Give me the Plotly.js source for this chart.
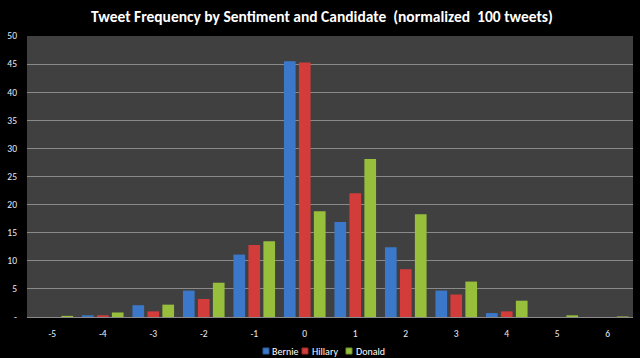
<!DOCTYPE html>
<html>
<head>
<meta charset="utf-8">
<script src="https://cdn.plot.ly/plotly-3.0.1.min.js"></script>
<style>
  html, body { margin: 0; padding: 0; background: #000; }
  #chart { width: 640px; height: 358px; }
</style>
</head>
<body>
<div id="chart"></div>
<script>
// Sentiment categories
const sentiments = ["-5", "-4", "-3", "-2", "-1", "0", "1", "2", "3", "4", "5", "6"];
// Candidates (series names)
const candidates = ["Bernie", "Hillary", "Donald"];
// Tweet frequency per 100 tweets
const bernie  = [0,   0.3, 2.1, 4.7, 11.1, 45.5, 16.9, 12.4, 4.7, 0.7, 0,   0];
const hillary = [0,   0.3, 1.0, 3.2, 12.8, 45.3, 22.0,  8.5, 4.0, 1.0, 0,   0];
const donald  = [0.2, 0.8, 2.2, 6.1, 13.5, 18.8, 28.1, 18.3, 6.3, 2.9, 0.3, 0.1];
// Y tick labels (zero shown as a dash)
const yTickVals = [0, 5, 10, 15, 20, 25, 30, 35, 40, 45, 50];
const yTickText = ["-", "5", "10", "15", "20", "25", "30", "35", "40", "45", "50"];

const FONT = "Carlito, 'Liberation Sans Narrow', 'Liberation Sans', sans-serif";
const fills = ["#3b78c9", "#d23c3a", "#97bf3c"];
const edges = ["#2a5a9a", "#9e2a28", "#6f8e2a"];
const series = [bernie, hillary, donald];

const data = candidates.map(function (name, i) {
  return {
    type: "bar",
    name: name,
    x: sentiments,
    y: series[i],
    marker: { color: fills[i], line: { width: 0 } },
    hoverinfo: "x+y+name"
  };
});

// Custom compact legend (small squares + labels), in paper coordinates
const legendSquareX = [0.3894, 0.4538, 0.5264];
const legendTextX   = [0.401, 0.467, 0.5396];
const shapes = candidates.map(function (name, i) {
  return {
    type: "rect", xref: "paper", yref: "paper",
    x0: legendSquareX[i], x1: legendSquareX[i] + 0.0099,
    y0: -0.1317, y1: -0.1103,
    fillcolor: fills[i], line: { color: edges[i], width: 1 }
  };
});
const annotations = candidates.map(function (name, i) {
  return {
    text: name, xref: "paper", yref: "paper",
    x: legendTextX[i], xanchor: "left",
    y: -0.121, yanchor: "middle",
    showarrow: false,
    font: { family: FONT, size: 10, color: "#ffffff" }
  };
});

const layout = {
  width: 640,
  height: 358,
  paper_bgcolor: "#000000",
  plot_bgcolor: "#404040",
  margin: { l: 27, r: 7, t: 36, b: 41, autoexpand: false },
  font: { family: FONT, color: "#ffffff", size: 9 },
  title: {
    text: "<b>Tweet Frequency by Sentiment and Candidate  (normalized  100 tweets)</b>",
    font: { family: FONT, size: 15.5, color: "#ffffff" },
    x: 0.503, xanchor: "center",
    y: 0.955, yanchor: "middle"
  },
  barmode: "group",
  bargap: 0.11,
  bargroupgap: 0.22,
  xaxis: {
    type: "category",
    showgrid: false,
    zeroline: false,
    showline: false,
    ticks: "",
    tickfont: { family: FONT, size: 9.5, color: "#e8eef8" },
    ticklabelstandoff: 9,
    fixedrange: true
  },
  yaxis: {
    range: [0, 50],
    tickvals: yTickVals,
    ticktext: yTickText,
    showgrid: true,
    gridcolor: "#8a8a8a",
    gridwidth: 1,
    zeroline: true,
    zerolinecolor: "#8a8a8a",
    zerolinewidth: 1,
    showline: false,
    ticks: "",
    tickfont: { family: FONT, size: 9.5, color: "#e8eef8" },
    ticklabelstandoff: 9,
    fixedrange: true
  },
  showlegend: false,
  shapes: shapes,
  annotations: annotations
};

Plotly.newPlot("chart", data, layout, { displayModeBar: false, staticPlot: true });
</script>
</body>
</html>
